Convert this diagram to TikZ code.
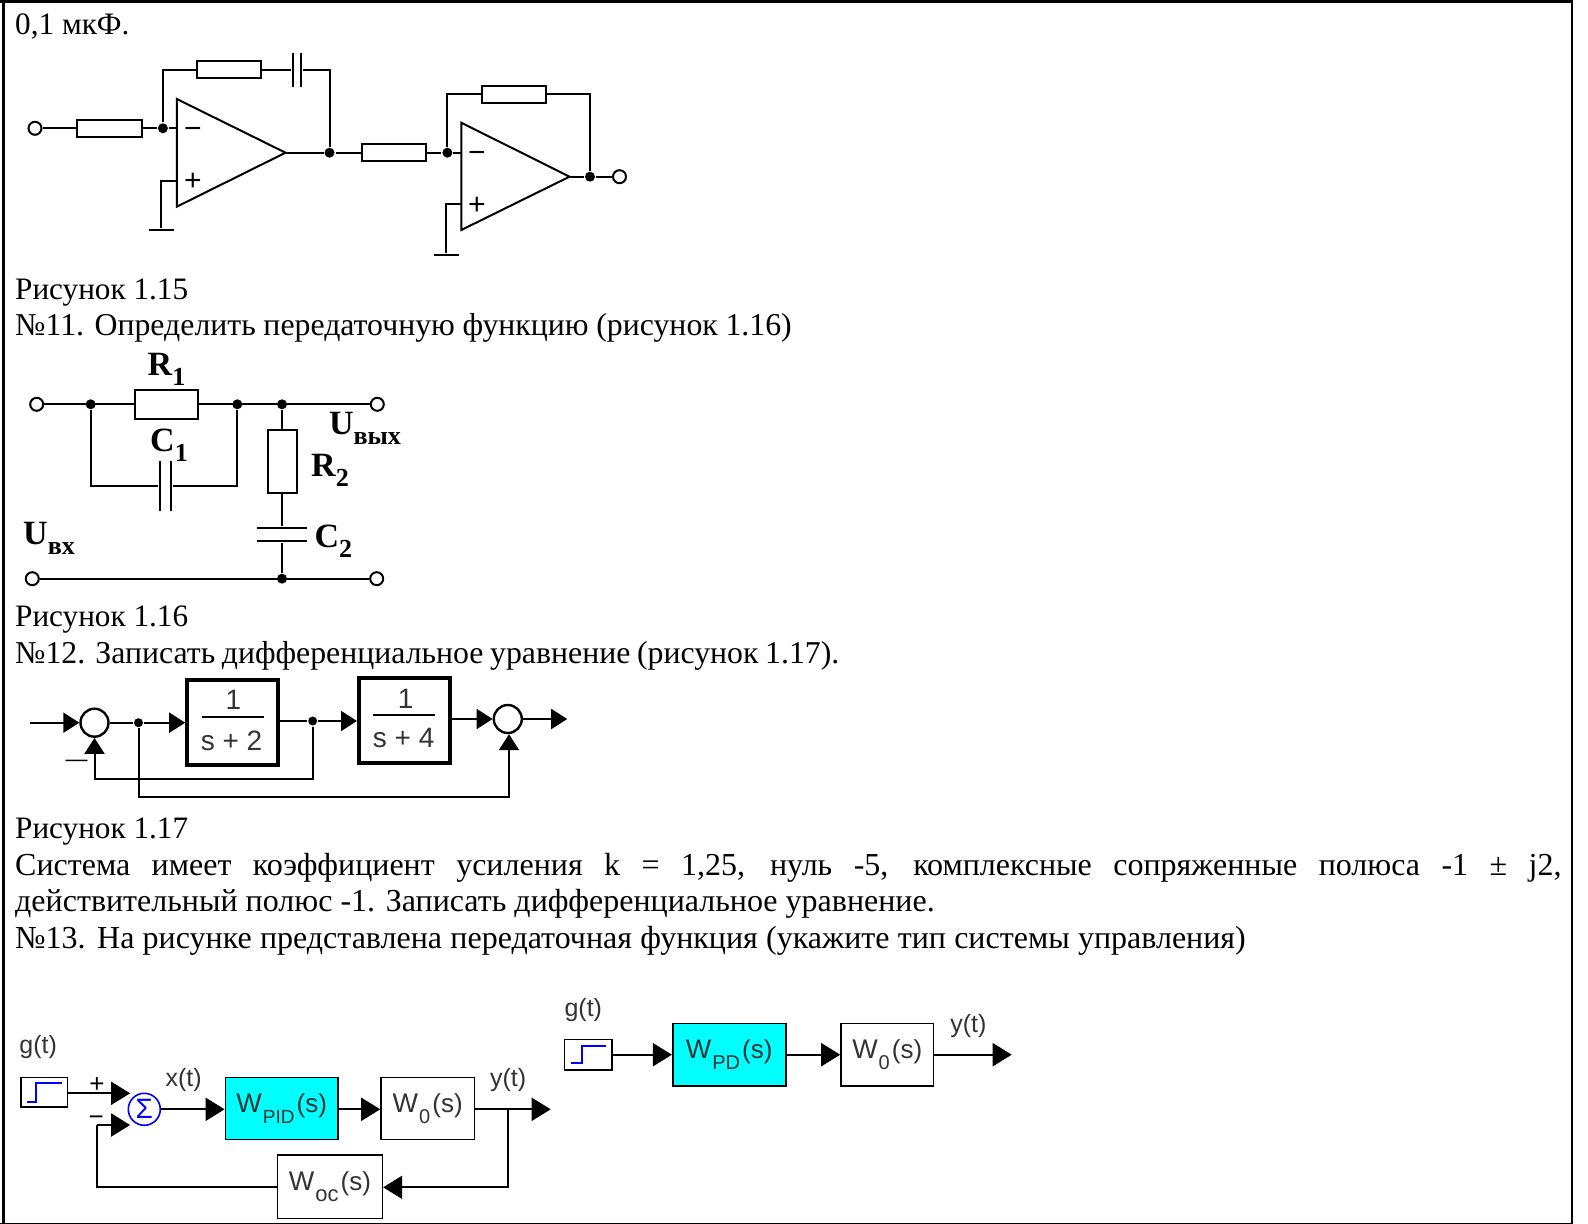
\documentclass[tikz,border=0pt]{standalone}
\usepackage{fontspec}
\setmainfont{Liberation Serif}
\newfontfamily\labelfont{Liberation Sans}
\usetikzlibrary{arrows.meta}
\definecolor{pidcyan}{RGB}{0,255,255}
\definecolor{stepblue}{RGB}{0,0,255}
\newcommand{\subtxt}[1]{\raisebox{-.3em}{\fontsize{13}{13}\selectfont #1}}
\newcommand{\wlab}[2]{\raisebox{-3pt}{\fontsize{13.5}{14}\selectfont W\kern.5pt\raisebox{-.4em}{\fontsize{#1}{11}\selectfont #2}\kern1pt\fontsize{13}{14}\selectfont(s)}}
\newcommand{\fitline}[3]{\makebox[#2][s]{\fontsize{#1}{18}\selectfont #3}}
\tikzset{
	txt/.style={anchor=base west,inner sep=0pt},
	rez/.style={draw,fill=white,inner sep=0pt,minimum width=32pt,minimum height=8.5pt},
	rezv/.style={draw,fill=white,inner sep=0pt,minimum width=14.5pt,minimum height=31.5pt},
	rezh/.style={draw,fill=white,inner sep=0pt,minimum width=31.5pt,minimum height=14.5pt},
	term/.style={draw,circle,fill=white,inner sep=0pt,minimum size=6.5pt},
	dot/.style={circle,fill=black,inner sep=0pt,minimum size=5pt},
	platev/.style={fill=black,inner sep=0pt,minimum width=1pt,minimum height=#1},
	plateh/.style={fill=black,inner sep=0pt,minimum height=1pt,minimum width=#1},
	sign/.style={inner sep=0pt,font=\labelfont\fontsize{15}{15}\selectfont},
	sgnb/.style={inner sep=0pt,font=\labelfont\fontsize{13}{13}\selectfont},
	bold/.style={inner sep=0pt,font=\bfseries\fontsize{17}{17}\selectfont},
	sumc/.style={draw,circle,line width=1.2pt,fill=white,inner sep=0pt,minimum size=14pt},
	thick box/.style={draw,line width=2pt,inner sep=0pt},
	blk/.style={draw,line width=.8pt,inner sep=0pt,text=black!80,font=\labelfont},
	lab/.style={inner sep=0pt,text=black!80,font=\labelfont\fontsize{12.5}{13}\selectfont},
	frac/.style={inner sep=0pt,text=black!80,font=\labelfont\fontsize{14}{14}\selectfont},
	tip/.style={-{Triangle[length=8pt,width=10pt]}},
	tipb/.style={-{Triangle[length=9.5pt,width=11.5pt]}}
}
\begin{document}
\begin{tikzpicture}[x=.5pt,y=-.5pt,line width=1pt,line join=miter,font=\fontsize{15.6}{18}\selectfont]
\useasboundingbox (0,0) rectangle (1588,1224);
	\fill (0,0) rectangle (1573.3,2.7);
	\fill (0,1222.9) rectangle (1573.3,1224);
	\fill (1.7,0) rectangle (5,1224);
	\fill (1571,0) rectangle (1573.3,1224);

	\node[txt] (t0) at (14.2,34.2) {0,1 мкФ.};
	\node[txt] (t1) at (14.2,299.3) {Рисунок 1.15};
	\node[txt] (t2) at (14.2,335.7) {\fitline{15.9}{388.3pt}{№11. Определить передаточную функцию (рисунок 1.16)}};
	\node[txt] (t3) at (14.2,626.4) {Рисунок 1.16};
	\node[txt] (t4) at (14.2,663.4) {\fitline{15.9}{412.1pt}{№12. Записать дифференциальное уравнение (рисунок 1.17).}};
	\node[txt] (t5) at (14.2,838) {Рисунок 1.17};
	\node[txt] (t6) at (14.2,875.5) {\fitline{16}{773.2pt}{Система имеет коэффициент усиления k = 1,25, нуль -5, комплексные сопряженные полюса -1 ± j2,}};
	\node[txt] (t7) at (14.2,911.5) {\fitline{16}{459.8pt}{действительный полюс -1. Записать дифференциальное уравнение.}};
	\node[txt] (t8) at (14.2,948.5) {\fitline{16}{615.3pt}{№13. На рисунке представлена передаточная функция (укажите тип системы управления)}};

	\coordinate (oa1a) at (176.8,99);
	\coordinate (oa1b) at (176.8,206.7);
	\coordinate (oa1c) at (285.5,152.7);
	\coordinate (oa2a) at (461.3,122.7);
	\coordinate (oa2b) at (461.3,230);
	\coordinate (oa2c) at (569.5,176.7);
	\draw (oa1a) -- (oa1b) -- (oa1c) -- cycle;
	\draw (oa2a) -- (oa2b) -- (oa2c) -- cycle;
	\node[sign] (m1) at (193,132.5) {−};
	\node[sign] (p1) at (193,182) {+};
	\node[sign] (m2) at (477,157) {−};
	\node[sign] (p2) at (477,205.5) {+};
	\node[term] (in1) at (35,128.3) {};
	\node[rez,minimum width=32.5pt] (r1) at (109.2,128.3) {};
	\node[dot] (j1) at (162.9,128.3) {};
	\node[rez] (r2) at (229,70) {};
	\node[platev=17pt] (c1a) at (293.4,70) {};
	\node[platev=17pt] (c1b) at (301.4,70) {};
	\node[dot] (j2) at (329.5,152.7) {};
	\node[rez] (r3) at (393.5,152.7) {};
	\node[dot] (j3) at (447.4,152.7) {};
	\node[rez] (r4) at (514,94.3) {};
	\node[dot] (j4) at (590,176.7) {};
	\node[term] (out1) at (619.5,176.7) {};
	\node[plateh=12.6pt] (g1) at (161.2,230) {};
	\node[plateh=12.6pt] (g2) at (446.1,255) {};
	\draw (in1) -- (r1) -- (j1) -- (j1-|oa1a);
	\draw (j1) |- (r2) -- (c1a);
	\draw (c1b) -| (j2);
	\draw (oa1c) -- (j2) -- (r3) -- (j3) -- (j3-|oa2a);
	\draw (j3) |- (r4) -| (j4);
	\draw (oa2c) -- (j4) -- (out1);
	\draw (oa1a|-0,180.7) -| (g1);
	\draw (oa2a|-0,204) -| (g2);

	\node[term] (in2) at (36.7,404.3) {};
	\node[dot] (j5) at (90.7,404.3) {};
	\node[rezh] (r5) at (166.3,404.3) {};
	\node[dot] (j6) at (237.3,404.3) {};
	\node[dot] (j7) at (282,404.3) {};
	\node[term] (out2) at (377.3,404.3) {};
	\node[platev=25pt] (c2a) at (160,486.3) {};
	\node[platev=25pt] (c2b) at (171,486.3) {};
	\node[rezv] (r6) at (282,461.3) {};
	\node[plateh=25pt] (c3a) at (282,528.3) {};
	\node[plateh=25pt] (c3b) at (282,540.7) {};
	\node[term] (in3) at (32.3,578.7) {};
	\node[dot] (j8) at (282,578.7) {};
	\node[term] (out3) at (376.7,578.7) {};
	\draw (in2) -- (r5) -- (out2);
	\draw (j5) |- (c2a);
	\draw (c2b) -| (j6);
	\draw (j7) -- (r6) -- (c3a);
	\draw (c3b) -- (j8);
	\draw (in3) -- (out3);
	\node[bold] (lr1) at (166.5,369) {R\subtxt{1}};
	\node[bold] (lc1) at (169,445) {C\subtxt{1}};
	\node[bold] (lr2) at (330,470) {R\subtxt{2}};
	\node[bold] (lc2) at (333.3,541) {C\subtxt{2}};
	\node[bold] (lu1) at (365,428) {U\subtxt{вых}};
	\node[bold] (lu2) at (49,538) {U\subtxt{вх}};

	\node[sumc] (s1) at (94.5,722.7) {};
	\node[sumc] (s2) at (507.8,719) {};
	\node[thick box,minimum width=45.5pt,minimum height=42.5pt] (b1) at (232.7,722.3) {};
	\node[thick box,minimum width=45.5pt,minimum height=42.5pt] (b2) at (404.5,720.3) {};
	\coordinate (st1) at (29.8,722.7);
	\node[dot,minimum size=4.5pt] (j9) at (138.5,722.7) {};
	\node[dot,minimum size=4.5pt] (j10) at (312.7,721) {};
	\coordinate (end1) at (567.2,719);
	\draw[tip] (st1) -- (s1);
	\draw (s1) -- (j9);
	\draw[tip] (j9) -- (b1.west|-j9);
	\draw (b1.east|-j10) -- (j10);
	\draw[tip] (j10) -- (b2.west|-j10);
	\draw[tip] (b2.east|-s2) -- (s2);
	\draw[tip] (s2) -- (end1);
	\draw[tip] (j10) |- (94.5,779.3) -- (s1);
	\draw[tip] (j9) |- (509,797.3) -- (s2.south-|509,0);
	\node[frac] (n1) at (233.4,700) {1};
	\draw (201.7,717.3) -- (264,717.3);
	\node[frac] (d1) at (231.5,741) {s + 2};
	\node[frac] (n2) at (405.7,699) {1};
	\draw (373,714.7) -- (435,714.7);
	\node[frac] (d2) at (403.7,738) {s + 4};
	\node[inner sep=0pt,font=\labelfont\fontsize{11}{11}\selectfont] (m3) at (76.5,763.3) {—};

	\node[blk,minimum width=23.3pt,minimum height=14.7pt] (st2) at (44,1092) {};
	\draw[stepblue] (27.3,1101.7) -- (36.4,1101.7) -- (36.4,1083.3) -- (61.8,1083.3);
	\node[draw=stepblue,circle,line width=.8pt,inner sep=0pt,minimum size=16pt,text=stepblue,font=\labelfont\fontsize{14}{14}\selectfont] (s3) at (144.3,1109.3) {Σ};
	\node[blk,fill=pidcyan,minimum width=56.3pt,minimum height=31pt] (pid) at (281.7,1108.3) {\wlab{9.5}{PID}};
	\node[blk,minimum width=46.7pt,minimum height=31pt] (w1) at (427.7,1108.3) {\wlab{10}{0}};
	\node[blk,minimum width=52.5pt,minimum height=31.7pt] (woc) at (329.9,1186.7) {\wlab{11}{oc}};
	\coordinate (t1a) at (130.1,1093.3);
	\coordinate (t1b) at (130.1,1125);
	\coordinate (end2) at (550.7,1109.3);
	\coordinate (b3) at (507.8,1109.3);
	\coordinate (b4) at (97.4,1125);
	\draw[tipb] (st2.east|-t1a) -- (t1a);
	\draw[tipb] (b4) -- (t1b);
	\draw (woc.west|-0,1187.3) -| (b4);
	\draw[tipb] (s3) -- (pid.west|-s3);
	\draw[tipb] (pid.east|-s3) -- (w1.west|-s3);
	\draw[tipb] (w1.east|-s3) -- (end2);
	\draw[tipb] (b3) |- (woc.east|-0,1187.3);
	\node[sgnb] (m4) at (96.3,1121) {−};
	\node[sgnb] (p3) at (97,1084.5) {+};
	\node[lab] (lg1) at (38.2,1047) {g(t)};
	\node[lab] (lx) at (183.6,1080) {x(t)};
	\node[lab] (ly1) at (508.2,1080) {y(t)};

	\node[blk,minimum width=23.7pt,minimum height=15.4pt] (st3) at (588,1054.7) {};
	\draw[stepblue] (570.7,1063.3) -- (581.7,1063.3) -- (581.7,1045.7) -- (606,1045.7);
	\node[blk,fill=pidcyan,minimum width=56.5pt,minimum height=31.3pt] (pd) at (729.2,1054.7) {\wlab{10}{PD}};
	\node[blk,minimum width=46.2pt,minimum height=31.3pt] (w2) at (887.2,1054.7) {\wlab{10}{0}};
	\coordinate (end3) at (1011.7,1054.7);
	\draw[tipb] (st3) -- (pd);
	\draw[tipb] (pd) -- (w2);
	\draw[tipb] (w2) -- (end3);
	\node[lab] (lg2) at (583.3,1010.5) {g(t)};
	\node[lab] (ly2) at (968.3,1026) {y(t)};
\end{tikzpicture}
\end{document}
